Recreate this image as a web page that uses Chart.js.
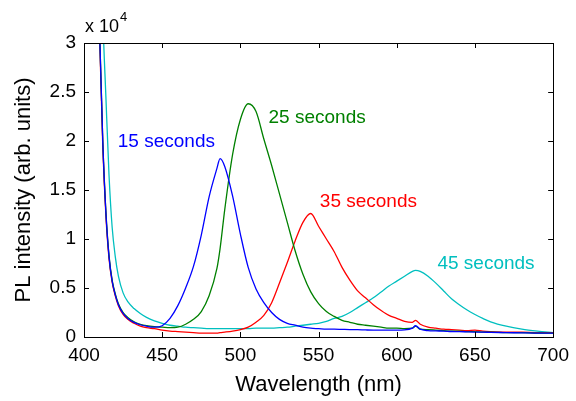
<!DOCTYPE html>
<html>
<head>
<meta charset="utf-8">
<script src="https://cdn.jsdelivr.net/npm/chart.js@4/dist/chart.umd.min.js"></script>
<style>
  html, body { margin: 0; padding: 0; background: #fff; }
  #wrap { width: 576px; height: 401px; }
</style>
</head>
<body>
<div id="wrap"><canvas id="myChart" width="576" height="401"></canvas></div>
<script>
// wavelengths (nm), shared by all four spectra
const wavelengths = [406, 408, 410, 412, 414, 416, 418, 420, 422,
  425, 428, 432, 436, 440,
  445, 450, 455, 460, 465, 470, 475, 480, 485, 487,
  490, 495, 500, 505, 510, 515, 520, 525, 530, 535, 540, 545, 550, 555, 560,
  565, 570, 575, 580, 585, 590, 595, 600, 605, 610, 612,
  615, 620, 625, 630, 635, 640, 645, 650, 655, 660,
  670, 680, 690, 700];

// PL intensity (arb. units)
const pl15 = [60000, 45000, 31000, 20000, 12700, 8200, 5700, 4300, 3300,
  2400, 1900, 1500, 1250, 1100,
  1000, 1150, 1900, 3200, 5000, 7200, 10400, 14300, 17200, 18200,
  17400, 14400, 10500, 7100, 4900, 3500, 2500, 1800, 1400, 1200, 1000, 900, 850, 800, 800,
  780, 760, 750, 720, 700, 700, 700, 700, 720, 900, 1150,
  800, 650, 620, 600, 560, 550, 520, 500, 500, 470,
  450, 420, 400, 400];

const pl25 = [60000, 45000, 31000, 20000, 12800, 8300, 5800, 4400, 3400,
  2500, 2000, 1550, 1300, 1150,
  1050, 1000, 950, 1000, 1300, 1800, 2600, 4200, 7000, 9000,
  13000, 18600, 22200, 23800, 23000, 20200, 17500, 14600, 11700, 8800, 6400, 4600, 3400, 2600, 2100,
  1700, 1500, 1300, 1200, 1100, 1000, 900, 900, 850, 900, 1100,
  800, 750, 700, 650, 600, 600, 550, 550, 500, 500,
  450, 450, 400, 400];

const pl35 = [60000, 44000, 30500, 19500, 12400, 8000, 5600, 4200, 3200,
  2300, 1800, 1400, 1100, 950,
  850, 700, 600, 550, 500, 450, 400, 400, 400, 450,
  500, 600, 750, 1000, 1500, 2200, 3500, 5500, 7600, 9800, 11700, 12600, 11300, 10000, 8700,
  7100, 5800, 4700, 4000, 3300, 2700, 2200, 1900, 1600, 1500, 1700,
  1300, 1000, 900, 800, 750, 700, 650, 700, 600, 550,
  500, 500, 450, 450];

const pl45 = [100000, 70000, 48000, 33000, 24500, 16500, 11200, 8200, 6200,
  4500, 3600, 2900, 2400, 2000,
  1650, 1400, 1200, 1100, 1000, 950, 900, 850, 850, 850,
  850, 850, 850, 850, 900, 900, 900, 950, 1000, 1100, 1200, 1300, 1400, 1600, 1900,
  2100, 2500, 3000, 3500, 4000, 4600, 5200, 5700, 6200, 6700, 6800,
  6700, 6200, 5500, 4700, 3900, 3300, 2750, 2300, 1900, 1550,
  1100, 800, 600, 450];

const seriesNames = ["15 seconds", "25 seconds", "35 seconds", "45 seconds"];
const seriesColors = ["rgb(0,0,255)", "rgb(0,128,0)", "rgb(255,0,0)", "rgb(0,191,191)"];
// where each series label sits (wavelength, intensity)
const labelX = [421.6, 518, 550.8, 626];
const labelY = [19900, 22400, 13800, 7500];

const xTicks = [400, 450, 500, 550, 600, 650, 700];
const yTicks = [0, 5000, 10000, 15000, 20000, 25000, 30000];

const FONT = "'Liberation Sans', Arial, Helvetica, sans-serif";

const allSeries = [pl15, pl25, pl35, pl45];
const datasets = allSeries.map(function(vals, i) {
  return {
    label: seriesNames[i],
    data: wavelengths.map(function(w, j) { return { x: w, y: vals[j] }; }),
    borderColor: seriesColors[i],
    borderWidth: 1.3,
    pointRadius: 0,
    fill: false,
    cubicInterpolationMode: "monotone"
  };
});

// box, inward ticks, series labels and the x 10^4 factor
const decorations = {
  id: "decorations",
  afterDatasetsDraw: function(chart) {
    const c = chart.ctx;
    const a = chart.chartArea;
    const xs = chart.scales.x, ys = chart.scales.y;
    c.save();
    c.strokeStyle = "#000";
    c.lineWidth = 1;
    c.strokeRect(Math.round(a.left) + 0.5, Math.round(a.top) + 0.5,
      Math.round(a.right - a.left), Math.round(a.bottom - a.top));
    const tl = 5;
    c.beginPath();
    xTicks.forEach(function(v) {
      const px = Math.round(xs.getPixelForValue(v)) + 0.5;
      c.moveTo(px, a.bottom); c.lineTo(px, a.bottom - tl);
      c.moveTo(px, a.top); c.lineTo(px, a.top + tl);
    });
    yTicks.forEach(function(v) {
      const py = Math.round(ys.getPixelForValue(v)) + 0.5;
      c.moveTo(a.left, py); c.lineTo(a.left + tl, py);
      c.moveTo(a.right, py); c.lineTo(a.right - tl, py);
    });
    c.stroke();

    c.font = "19px " + FONT;
    c.textAlign = "left";
    c.textBaseline = "middle";
    seriesNames.forEach(function(name, i) {
      c.fillStyle = seriesColors[i];
      c.fillText(name, xs.getPixelForValue(labelX[i]), ys.getPixelForValue(labelY[i]));
    });

    c.fillStyle = "#000";
    c.textBaseline = "alphabetic";
    c.font = "18px " + FONT;
    c.fillText("x 10", a.left + 1, 32);
    const w = c.measureText("x 10").width;
    c.font = "13px " + FONT;
    c.fillText("4", a.left + 2 + w, 21);
    c.restore();
  }
};

let ctx = document.getElementById("myChart").getContext("2d");
let myChart = new Chart(ctx, {
  type: "line",
  data: { datasets: datasets },
  options: {
    responsive: false,
    animation: false,
    devicePixelRatio: 1,
    layout: { padding: { left: 0, right: 19, top: 43, bottom: 0 } },
    plugins: { legend: { display: false }, tooltip: { enabled: false } },
    scales: {
      x: {
        type: "linear",
        min: 400,
        max: 700,
        afterFit: function(scale) { scale.height = 64; },
        afterBuildTicks: function(scale) { scale.ticks = xTicks.map(function(v) { return { value: v }; }); },
        grid: { display: false, drawTicks: false },
        border: { display: false },
        ticks: { color: "#000", padding: 7, font: { size: 19, family: FONT }, maxRotation: 0 },
        title: { display: true, text: "Wavelength (nm)", color: "#000",
          font: { size: 22, family: FONT }, padding: { top: 0, bottom: 3 } }
      },
      y: {
        min: 0,
        max: 30000,
        afterFit: function(scale) { scale.width = 84; },
        afterBuildTicks: function(scale) { scale.ticks = yTicks.map(function(v) { return { value: v }; }); },
        grid: { display: false, drawTicks: false },
        border: { display: false },
        ticks: { color: "#000", padding: 8, font: { size: 19, family: FONT },
          callback: function(v) { return String(v / 10000); } },
        title: { display: true, text: "PL intensity (arb. units)", color: "#000",
          font: { size: 22, family: FONT }, padding: { top: 11, bottom: 0 } }
      }
    }
  },
  plugins: [decorations]
});
</script>
</body>
</html>
